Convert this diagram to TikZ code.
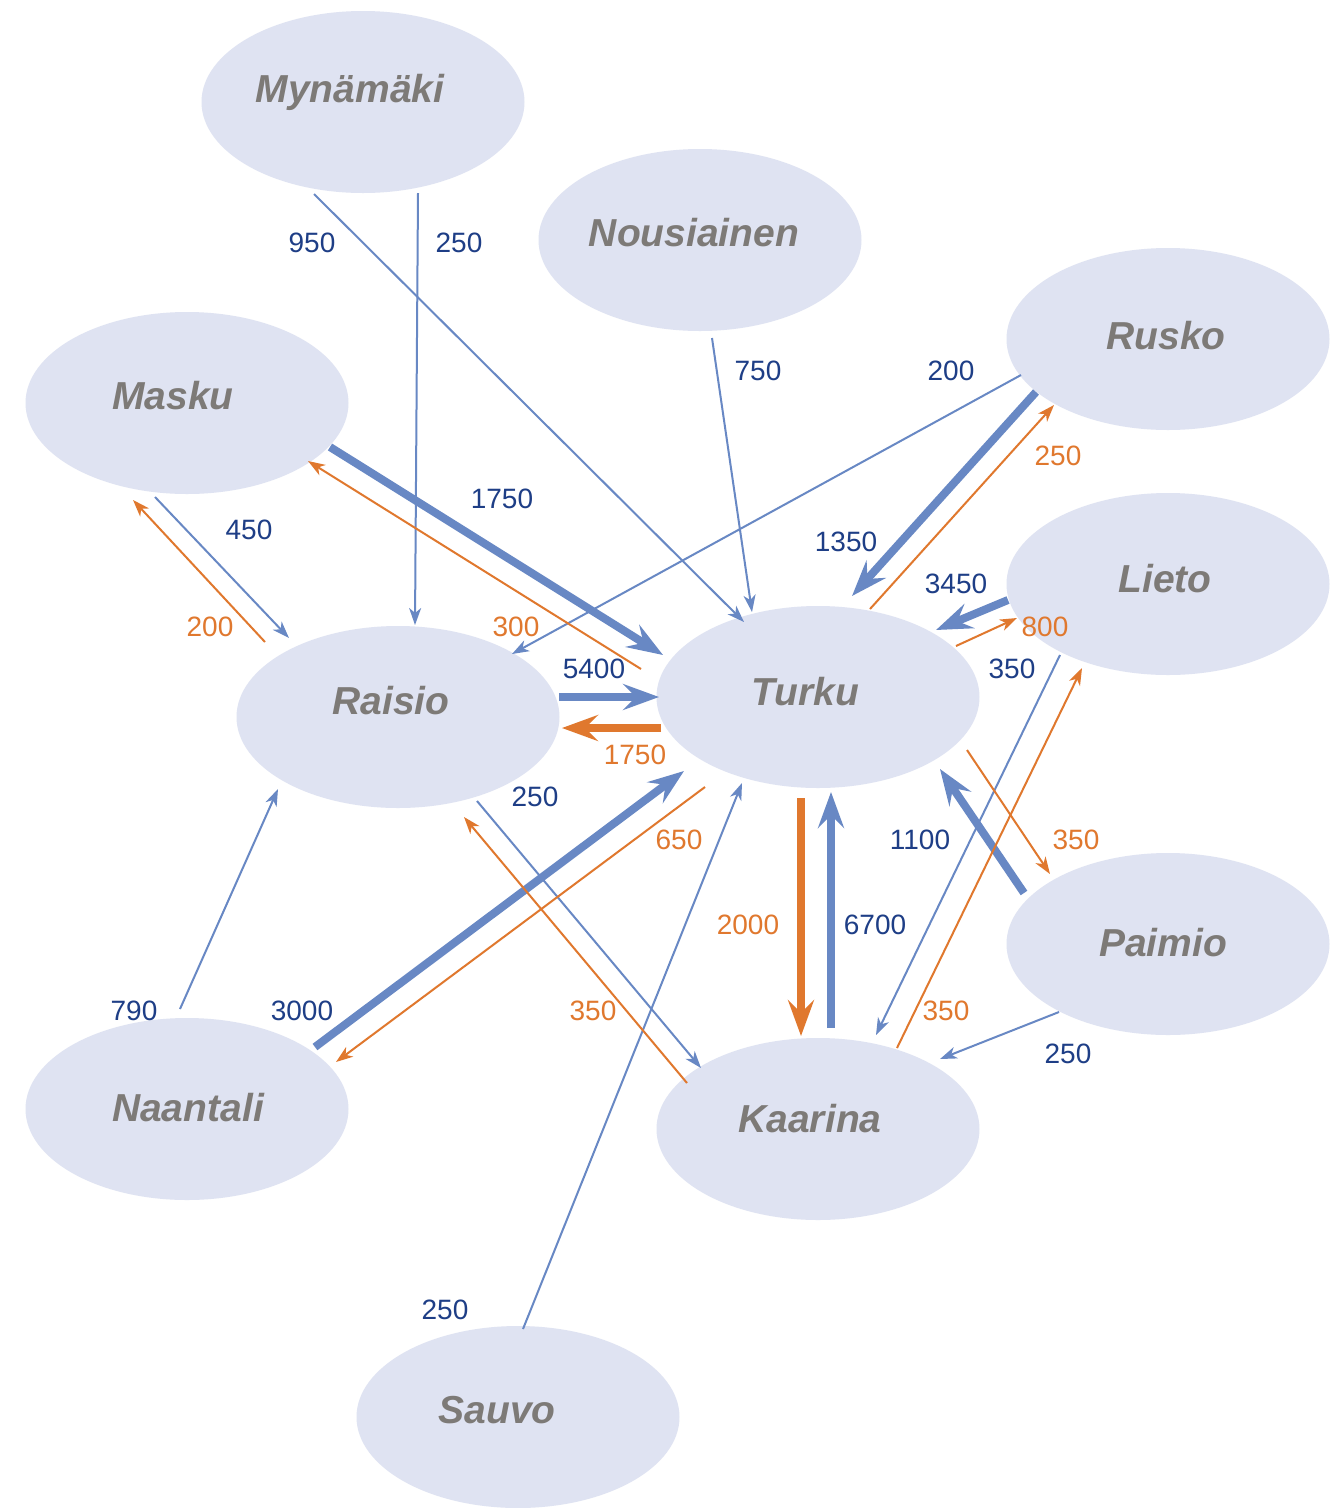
\documentclass[tikz,border=0pt]{standalone}
\usepackage{fontspec}
\setmainfont{Liberation Sans}
\usetikzlibrary{shapes.geometric,arrows.meta}
\definecolor{ellfill}{RGB}{223,227,242}
\definecolor{bline}{RGB}{104,136,196}
\definecolor{oline}{RGB}{224,120,46}
\definecolor{btext}{RGB}{30,62,134}
\definecolor{otext}{RGB}{224,120,46}
\definecolor{gtext}{RGB}{125,122,119}
\begin{document}
\begin{tikzpicture}[x=1pt,y=-1pt,
  town/.style={ellipse, fill=ellfill, minimum width=323pt, minimum height=182pt, inner sep=0pt},
  townname/.style={anchor=base, text=gtext, inner sep=0pt, font=\fontsize{39}{39}\selectfont\bfseries\itshape},
  bnum/.style={anchor=base, text=btext, inner sep=0pt, font=\fontsize{28}{28}\selectfont},
  onum/.style={bnum, text=otext},
  bthin/.style={draw=bline, line width=2pt, -{Stealth[length=17pt,width=12pt,inset=5pt]}},
  othin/.style={bthin, draw=oline},
  bthick/.style={draw=bline, line width=8pt, -{Stealth[length=36pt,width=26pt,inset=13pt]}},
  othick/.style={bthick, draw=oline}
]
\useasboundingbox (0,0) rectangle (1335,1508);
\fill[white] (0,0) rectangle (1335,1508);

% towns
\node[town] (myn) at (363,102) {};
\node[town] (nou) at (700,240) {};
\node[town] (rus) at (1168,339) {};
\node[town] (mas) at (187,403) {};
\node[town] (lie) at (1168,584) {};
\node[town] (rai) at (398,717) {};
\node[town] (tku) at (818,697) {};
\node[town] (pai) at (1168,944) {};
\node[town] (naa) at (187,1109) {};
\node[town] (kaa) at (818,1129) {};
\node[town] (sau) at (518,1417) {};

% thin blue
\draw[bthin] ([shift={(-49,92)}]myn.center) -- ([shift={(-74,-75)}]tku.center);
\draw[bthin] ([shift={(55,91)}]myn.center) -- ([shift={(17,-92)}]rai.center);
\draw[bthin] ([shift={(12,98)}]nou.center) -- ([shift={(-66,-85)}]tku.center);
\draw[bthin] ([shift={(-147,36)}]rus.center) -- ([shift={(114,-63)}]rai.center);
\draw[bthin] ([shift={(-32,94)}]mas.center) -- ([shift={(-109,-79)}]rai.center);
\draw[bthin] ([shift={(79,84)}]rai.center) -- ([shift={(-117,-61)}]kaa.center);
\draw[bthin] ([shift={(-7,-100)}]naa.center) -- ([shift={(-120,72)}]rai.center);
\draw[bthin] ([shift={(5,-88)}]sau.center) -- ([shift={(-76,86)}]tku.center);
\draw[bthin] ([shift={(-108,71)}]lie.center) -- ([shift={(58,-94)}]kaa.center);
\draw[bthin] ([shift={(-109,68)}]pai.center) -- ([shift={(122,-70)}]kaa.center);

% thick blue
\draw[bthick] ([shift={(143,44)}]mas.center) -- ([shift={(-155,-42)}]tku.center);
\draw[bthick] ([shift={(-132,53)}]rus.center) -- ([shift={(34,-101)}]tku.center);
\draw[bthick] ([shift={(-160,16)}]lie.center) -- ([shift={(118,-67)}]tku.center);
\draw[bthick] ([shift={(161,-20)}]rai.center) -- ([shift={(-159,0)}]tku.center);
\draw[bthick] ([shift={(128,-62)}]naa.center) -- ([shift={(-134,74)}]tku.center);
\draw[bthick] ([shift={(13,-101)}]kaa.center) -- ([shift={(13,95)}]tku.center);
\draw[bthick] ([shift={(-144,-51)}]pai.center) -- ([shift={(122,72)}]tku.center);

% thin orange
\draw[othin] ([shift={(-133,-75)}]rai.center) -- ([shift={(-54,97)}]mas.center);
\draw[othin] ([shift={(-177,-28)}]tku.center) -- ([shift={(121,58)}]mas.center);
\draw[othin] ([shift={(52,-88)}]tku.center) -- ([shift={(-114,66)}]rus.center);
\draw[othin] ([shift={(138,-51)}]tku.center) -- ([shift={(-151,34)}]lie.center);
\draw[othin] ([shift={(-113,90)}]tku.center) -- ([shift={(149,-47)}]naa.center);
\draw[othin] ([shift={(-131,-46)}]kaa.center) -- ([shift={(66,100)}]rai.center);
\draw[othin] ([shift={(79,-81)}]kaa.center) -- ([shift={(-86,84)}]lie.center);
\draw[othin] ([shift={(149,53)}]tku.center) -- ([shift={(-118,-70)}]pai.center);

% thick orange
\draw[othick] ([shift={(-157,31)}]tku.center) -- ([shift={(164,11)}]rai.center);
\draw[othick] ([shift={(-17,101)}]tku.center) -- ([shift={(-17,-93)}]kaa.center);

% town names
\node[townname] (tmyn) at (350,102) {Mynämäki};
\node[townname] (tnou) at (694,246) {Nousiainen};
\node[townname] (trus) at (1166,349) {Rusko};
\node[townname] (tmas) at (173,409) {Masku};
\node[townname] (tlie) at (1165,592) {Lieto};
\node[townname] (trai) at (391,714) {Raisio};
\node[townname] (ttku) at (805,705) {Turku};
\node[townname] (tpai) at (1163,956) {Paimio};
\node[townname] (tnaa) at (188,1121) {Naantali};
\node[townname] (tkaa) at (810,1132) {Kaarina};
\node[townname] (tsau) at (497,1423) {Sauvo};

% numbers
\node[bnum] (n1) at (312,252) {950};
\node[bnum] (n2) at (459,252) {250};
\node[bnum] (n3) at (758,380) {750};
\node[bnum] (n4) at (951,380) {200};
\node[bnum] (n5) at (502,508) {1750};
\node[bnum] (n6) at (249,539) {450};
\node[onum] (n7) at (1058,465) {250};
\node[bnum] (n8) at (846,551) {1350};
\node[bnum] (n9) at (956,593) {3450};
\node[onum] (n10) at (1045,636) {800};
\node[onum] (n11) at (210,636) {200};
\node[onum] (n12) at (516,636) {300};
\node[bnum] (n13) at (594,678) {5400};
\node[bnum] (n14) at (1012,678) {350};
\node[onum] (n15) at (635,764) {1750};
\node[bnum] (n16) at (535,806) {250};
\node[onum] (n17) at (679,849) {650};
\node[bnum] (n18) at (920,849) {1100};
\node[onum] (n19) at (1076,849) {350};
\node[onum] (n20) at (748,934) {2000};
\node[bnum] (n21) at (875,934) {6700};
\node[bnum] (n22) at (134,1020) {790};
\node[bnum] (n23) at (302,1020) {3000};
\node[onum] (n24) at (593,1020) {350};
\node[onum] (n25) at (946,1020) {350};
\node[bnum] (n26) at (1068,1063) {250};
\node[bnum] (n27) at (445,1319) {250};
\end{tikzpicture}
\end{document}
